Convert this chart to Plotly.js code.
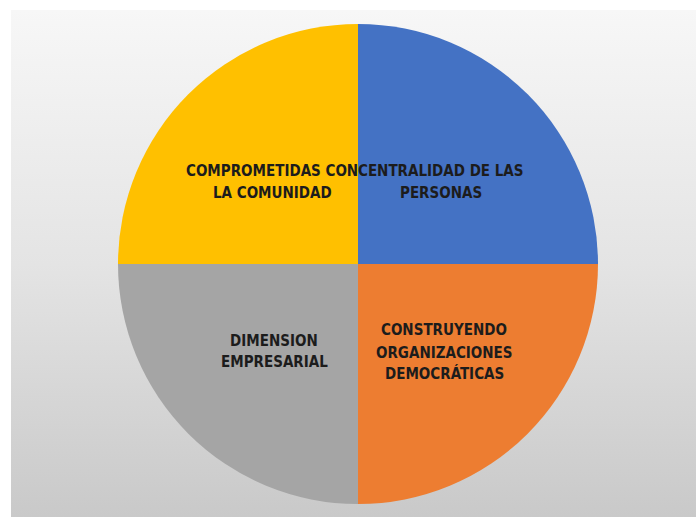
<!DOCTYPE html>
<html>
<head>
<meta charset="utf-8">
<script src="https://cdn.plot.ly/plotly-3.0.1.min.js"></script>
<style>
  html, body { margin: 0; padding: 0; background: #ffffff; }
  #wrap { position: relative; width: 696px; height: 517px; }
  #bg { position: absolute; left: 11px; top: 10px; right: 0; bottom: 0;
        background: linear-gradient(to bottom, #f7f7f7 0%, #e4e4e4 50%, #c9c9c9 100%); }
  #chart { position: absolute; left: 0; top: 0; width: 696px; height: 517px; }
</style>
</head>
<body>
<div id="wrap">
  <div id="bg"></div>
  <div id="chart"></div>
</div>
<script>
// Data
const categories = [
  "CENTRALIDAD DE LAS PERSONAS",
  "CONSTRUYENDO ORGANIZACIONES DEMOCRÁTICAS",
  "DIMENSION EMPRESARIAL",
  "COMPROMETIDAS CON LA COMUNIDAD"
];
const values = [25, 25, 25, 25];
const labelLines = [
  ["CENTRALIDAD DE LAS", "PERSONAS"],
  ["CONSTRUYENDO", "ORGANIZACIONES", "DEMOCRÁTICAS"],
  ["DIMENSION", "EMPRESARIAL"],
  ["COMPROMETIDAS CON", "LA COMUNIDAD"]
];

// Styling / placement (not data)
const colors = ["#4472C4", "#ED7D31", "#A5A5A5", "#FFC000"];
const W = 696, H = 517;
const cx = 358, cy = 264, r = 240;
const labelX = [441, 444, 274, 272];
const labelY = [[170, 191.7], [329, 352, 372.5], [340, 360.5], [170, 191.7]];

const trace = {
  type: "pie",
  labels: categories,
  values: values,
  sort: false,
  direction: "clockwise",
  rotation: 0,
  textinfo: "none",
  hoverinfo: "label",
  marker: { colors: colors, line: { width: 0 } },
  domain: {
    x: [(cx - r) / W, (cx + r) / W],
    y: [(H - cy - r) / H, (H - cy + r) / H]
  },
  showlegend: false
};

const fontFam = "'Liberation Sans Narrow', 'DejaVu Sans Condensed', 'Arial Narrow', sans-serif";
const annotations = [];
labelLines.forEach((lines, i) => {
  lines.forEach((t, j) => {
    annotations.push({
      text: t,
      xref: "paper", yref: "paper",
      x: labelX[i] / W,
      y: 1 - (labelY[i][j] + 1) / H,
      xanchor: "center", yanchor: "middle",
      align: "center",
      showarrow: false,
      font: { family: fontFam, size: 15, color: "#1c1c1c", weight: "bold" }
    });
  });
});

const layout = {
  width: W, height: H,
  margin: { l: 0, r: 0, t: 0, b: 0 },
  paper_bgcolor: "rgba(0,0,0,0)",
  plot_bgcolor: "rgba(0,0,0,0)",
  annotations: annotations
};

Plotly.newPlot("chart", [trace], layout, { displayModeBar: false, staticPlot: true });
</script>
</body>
</html>
